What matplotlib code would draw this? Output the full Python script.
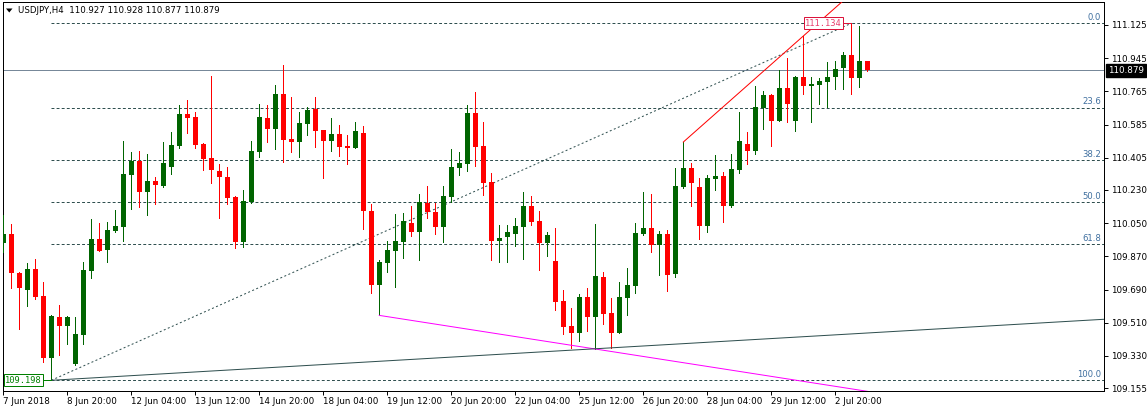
import matplotlib
matplotlib.use("Agg")
import matplotlib.pyplot as plt
from matplotlib.patches import Polygon
from matplotlib.transforms import blended_transform_factory, offset_copy

# ---------------- data (USDJPY H4) ----------------
symbol_title = "USDJPY,H4  110.927 110.928 110.877 110.879"

opens = [109.944, 109.991, 109.778, 109.690, 109.800, 109.653, 109.321, 109.541, 109.494, 109.288,
         109.446, 109.793, 109.964, 109.906, 110.009, 110.031, 110.311, 110.387, 110.221, 110.279,
         110.253, 110.357, 110.470, 110.642, 110.626, 110.480, 110.404, 110.333, 110.300, 110.194,
         109.950, 110.167, 110.438, 110.620, 110.563, 110.751, 110.507, 110.492, 110.590, 110.669,
         110.555, 110.498, 110.534, 110.469, 110.460, 110.539, 110.116, 109.717, 109.836, 109.901,
         109.950, 110.051, 110.004, 110.160, 110.111, 110.031, 110.194, 110.351, 110.373, 110.647,
         110.468, 110.273, 109.955, 109.977, 109.993, 110.031, 110.143, 110.062, 109.944, 109.845,
         109.628, 109.492, 109.456, 109.649, 109.543, 109.758, 109.563, 109.456, 109.646, 109.711,
         109.993, 110.025, 109.933, 109.991, 109.776, 110.248, 110.349, 110.246, 110.036, 110.291,
         110.306, 110.145, 110.340, 110.479, 110.443, 110.676, 110.745, 110.606, 110.783, 110.606,
         110.842, 110.795, 110.801, 110.817, 110.842, 110.891, 110.962, 110.839, 110.927]

highs = [110.094, 110.046, 109.785, 109.834, 109.856, 109.731, 109.550, 109.606, 109.547, 109.541,
         109.841, 110.073, 110.051, 110.056, 110.122, 110.496, 110.436, 110.442, 110.425, 110.300,
         110.490, 110.545, 110.691, 110.718, 110.653, 110.485, 110.848, 110.371, 110.355, 110.199,
         110.230, 110.496, 110.696, 110.691, 110.799, 110.908, 110.734, 110.653, 110.680, 110.734,
         110.555, 110.620, 110.582, 110.528, 110.599, 110.577, 110.156, 109.850, 109.953, 110.100,
         110.105, 110.143, 110.208, 110.252, 110.160, 110.251, 110.452, 110.436, 110.691, 110.761,
         110.599, 110.322, 110.040, 110.040, 110.078, 110.219, 110.197, 110.116, 110.004, 110.024,
         109.687, 109.590, 109.666, 109.698, 110.045, 109.785, 109.644, 109.731, 109.807, 110.051,
         110.219, 110.208, 110.009, 110.013, 110.349, 110.490, 110.376, 110.295, 110.313, 110.420,
         110.327, 110.425, 110.653, 110.544, 110.794, 110.767, 110.750, 110.880, 110.945, 110.848,
         111.065, 110.842, 110.837, 110.924, 110.929, 110.978, 111.134, 111.119, 110.928]

lows = [109.896, 109.700, 109.474, 109.603, 109.637, 109.299, 109.198, 109.337, 109.397, 109.281,
        109.397, 109.755, 109.899, 109.841, 110.004, 109.955, 110.129, 110.140, 110.096, 110.156,
        110.248, 110.319, 110.460, 110.541, 110.460, 110.340, 110.270, 110.080, 110.156, 109.917,
        109.923, 110.161, 110.411, 110.490, 110.454, 110.384, 110.438, 110.411, 110.530, 110.465,
        110.297, 110.443, 110.416, 110.373, 110.458, 110.020, 109.673, 109.550, 109.787, 109.706,
        109.863, 109.982, 109.852, 110.080, 109.993, 109.950, 110.166, 110.313, 110.335, 110.362,
        110.204, 109.852, 109.841, 109.841, 109.928, 109.857, 110.042, 109.798, 109.874, 109.581,
        109.451, 109.375, 109.413, 109.467, 109.369, 109.505, 109.375, 109.454, 109.554, 109.673,
        109.988, 109.895, 109.771, 109.684, 109.760, 110.242, 110.145, 109.966, 110.004, 110.232,
        110.058, 110.139, 110.324, 110.372, 110.427, 110.562, 110.470, 110.604, 110.600, 110.551,
        110.752, 110.600, 110.698, 110.680, 110.779, 110.779, 110.752, 110.790, 110.877]

closes = [109.991, 109.778, 109.700, 109.800, 109.652, 109.321, 109.547, 109.494, 109.541, 109.449,
          109.796, 109.964, 109.901, 110.013, 110.035, 110.317, 110.387, 110.221, 110.279, 110.257,
          110.376, 110.474, 110.642, 110.622, 110.476, 110.398, 110.340, 110.302, 110.188, 109.950,
          110.170, 110.442, 110.626, 110.563, 110.751, 110.503, 110.492, 110.593, 110.664, 110.552,
          110.498, 110.534, 110.465, 110.460, 110.550, 110.118, 109.717, 109.840, 109.905, 109.953,
          110.062, 110.004, 110.167, 110.113, 110.031, 110.197, 110.354, 110.376, 110.647, 110.465,
          110.270, 109.955, 109.969, 110.002, 110.034, 110.143, 110.058, 109.944, 109.986, 109.624,
          109.489, 109.456, 109.649, 109.543, 109.763, 109.559, 109.456, 109.649, 109.715, 109.997,
          110.025, 109.933, 109.991, 109.771, 110.251, 110.349, 110.270, 110.036, 110.295, 110.306,
          110.145, 110.344, 110.495, 110.443, 110.680, 110.745, 110.606, 110.783, 110.698, 110.842,
          110.795, 110.804, 110.821, 110.842, 110.886, 110.962, 110.839, 110.929, 110.879]

time_tick_bars = [0, 8, 16, 24, 32, 40, 48, 56, 64, 72, 80, 88, 96, 104]
time_tick_labels = ["7 Jun 2018", "8 Jun 20:00", "12 Jun 04:00", "13 Jun 12:00", "14 Jun 20:00",
                    "18 Jun 04:00", "19 Jun 12:00", "20 Jun 20:00", "22 Jun 04:00", "25 Jun 12:00",
                    "26 Jun 20:00", "28 Jun 04:00", "29 Jun 12:00", "2 Jul 20:00"]
price_ticks = [111.125, 110.945, 110.765, 110.585, 110.405, 110.230,
               110.050, 109.870, 109.690, 109.510, 109.330, 109.155]
price_tick_labels = ["111.125", "110.945", "110.765", "110.585", "110.405", "110.230",
                     "110.050", "109.870", "109.690", "109.510", "109.330", "109.155"]
current_price = 110.879

fib_start_bar, fib_end_bar = 6, 106
fib_low, fib_high = 109.198, 111.134
fib_levels = [0.0, 23.6, 38.2, 50.0, 61.8, 100.0]

red_trend_bars = [85, 100]
red_trend_prices = [110.490, 111.065]
magenta_bars = [47, 71]
magenta_prices = [109.550, 109.388]
slate_bars = [6, 74]
slate_prices = [109.198, 109.369]

# ---------------- figure ----------------
W, H = 1147, 412
fig = plt.figure(figsize=(W / 100, H / 100), dpi=100)
fig.patch.set_facecolor("white")
pl, pr, pt, pb = 2.7, 1104.0, 1.5, 391.0     # axes box in pixels
ax = fig.add_axes([pl / W, 1 - pb / H, (pr - pl) / W, (pb - pt) / H])
ppu = 184.4          # pixels per price unit
bar_px = 8.0
x0px = 3.3
ax.set_xlim((pl - x0px) / bar_px, (pr - x0px) / bar_px)
ax.set_ylim(fib_high - (pb - 23.3) / ppu, fib_high + (23.3 - pt) / ppu)
xmax = (pr - x0px) / bar_px

GREEN = "#006400"
RED = "#ff0000"
SLATE = "#2f4f4f"
px = 0.72  # one pixel in points

# candles
n = len(opens)
for i in range(n):
    o, h, l, c = opens[i], highs[i], lows[i], closes[i]
    col = GREEN if c >= o else RED
    ax.vlines(i, l, h, color=col, linewidth=1.0 * px, zorder=3, antialiased=False)
    bottom = min(o, c)
    height = max(abs(c - o), 0.006)
    ax.bar(i, height, bottom=bottom, width=0.62, color=col, linewidth=0, zorder=4)

# current price line
ax.axhline(current_price, color="#778899", linewidth=1.0 * px, zorder=2)

# fibonacci levels
fib_range = fib_high - fib_low
for lvl in fib_levels:
    p = fib_high - fib_range * lvl / 100.0
    ax.plot([fib_start_bar, xmax], [p, p], color=SLATE, linewidth=1.0 * px,
            dashes=(2.9, 2.2), zorder=2)
    ax.text(xmax - 0.35, p + 0.006, f"{lvl:.1f}", ha="right", va="bottom",
            fontsize=6.1, color="#3f6f9f", zorder=6)
# fib diagonal
ax.plot([fib_start_bar, fib_end_bar], [fib_low, fib_high], color=SLATE,
        linewidth=1.0 * px, dashes=(2.0, 2.4), zorder=2)

def ray(bars, prices, end_bar):
    slope = (prices[1] - prices[0]) / (bars[1] - bars[0])
    return [bars[0], end_bar], [prices[0], prices[0] + slope * (end_bar - bars[0])]

xs, ys = ray(red_trend_bars, red_trend_prices, xmax)
ax.plot(xs, ys, color=RED, linewidth=1.0 * px, zorder=5)
xs, ys = ray(magenta_bars, magenta_prices, xmax)
ax.plot(xs, ys, color="#ff00ff", linewidth=1.0 * px, zorder=5)
xs, ys = ray(slate_bars, slate_prices, xmax)
ax.plot(xs, ys, color=SLATE, linewidth=1.0 * px, zorder=5)

# labels for fib anchors
ax.plot([fib_start_bar - 1.2, fib_start_bar], [fib_low, fib_low], color="#008000",
        linewidth=1.0 * px, zorder=6)
ax.text(fib_start_bar - 1.2, fib_low, f"{fib_low:.3f}", ha="right", va="center",
        fontsize=6.3, family="DejaVu Sans Mono", color="#008000", zorder=7,
        bbox=dict(boxstyle="square,pad=0.15", facecolor="white", edgecolor="#008000",
                  linewidth=1.0 * px))
ax.plot([fib_end_bar - 1.2, fib_end_bar], [fib_high, fib_high], color="#dc143c",
        linewidth=1.0 * px, zorder=6)
ax.text(fib_end_bar - 1.2, fib_high, f"{fib_high:.3f}", ha="right", va="center",
        fontsize=6.3, family="DejaVu Sans Mono", color="#e8406e", zorder=7,
        bbox=dict(boxstyle="square,pad=0.15", facecolor="white", edgecolor="#dc143c",
                  linewidth=1.0 * px))

# axes styling
for s in ax.spines.values():
    s.set_color("black")
    s.set_linewidth(1.0 * px)
ax.yaxis.tick_right()
ax.set_yticks(price_ticks)
ax.set_yticklabels(price_tick_labels)
ax.tick_params(axis="y", direction="out", length=3, width=0.7, pad=2.0,
               labelsize=6.3, colors="black")
ax.set_xticks(time_tick_bars)
ax.set_xticklabels(time_tick_labels, ha="left")
ax.tick_params(axis="x", direction="out", length=3, width=0.7, pad=1.5,
               labelsize=6.3, colors="black")
for lab in ax.get_xticklabels():
    lab.set_horizontalalignment("left")

# current price tag
trans = blended_transform_factory(ax.transAxes, ax.transData)
ax.text(1.0, current_price, f"{current_price:.3f}",
        transform=offset_copy(trans, fig=fig, x=4, y=0, units="dots"),
        ha="left", va="center", fontsize=6.3, color="white", clip_on=False, zorder=8,
        bbox=dict(boxstyle="square,pad=0.25", facecolor="black", edgecolor="black"))

# title with triangle
tri = Polygon([[6 / W, 1 - 8.5 / H], [12.5 / W, 1 - 8.5 / H], [9.25 / W, 1 - 12.5 / H]],
              closed=True, transform=fig.transFigure, facecolor="black", edgecolor="black",
              linewidth=0)
fig.add_artist(tri)
fig.text(18 / W, 1 - 10.7 / H, symbol_title, ha="left", va="center", fontsize=6.2, color="black")

fig.savefig("out.png", dpi=100)
